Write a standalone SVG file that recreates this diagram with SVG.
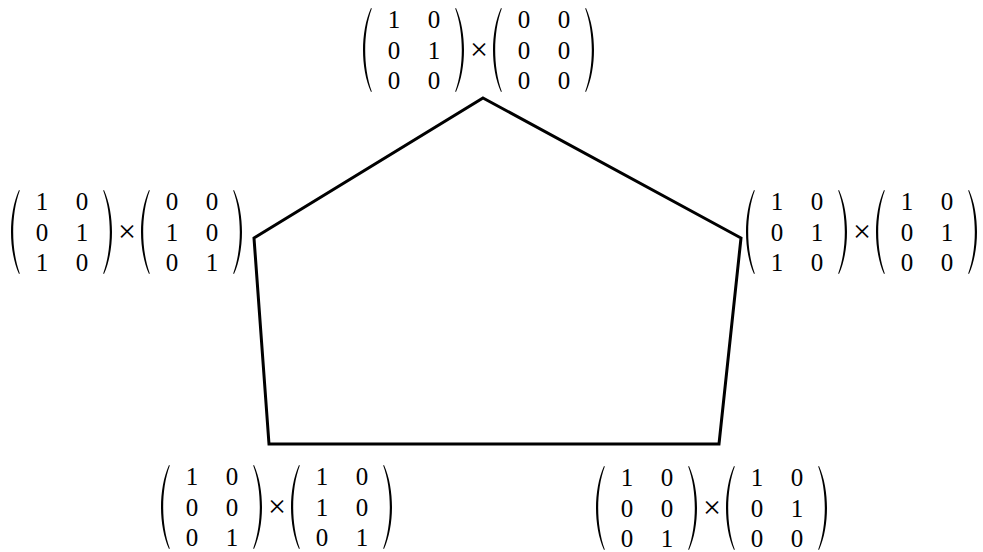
<svg xmlns="http://www.w3.org/2000/svg" xmlns:xlink="http://www.w3.org/1999/xlink" width="983" height="552" viewBox="0 0 983 552" font-family="'Liberation Serif', 'Times New Roman', serif">
<style>
text{font-family:'Liberation Serif','Times New Roman',serif;font-size:25px;fill:#000;text-anchor:middle}
text.x{font-size:32px}
.edge{fill:none;stroke:#000;stroke-width:3;stroke-linejoin:miter}
.par{fill:#000}
</style>
<defs>
<path id="lp" class="par" d="M8,0 C2.5,12 0,28 0,42 C0,56 2.5,72 8,84 L8.8,83.4 C4.2,71 2.2,56 2.2,42 C2.2,28 4.2,13 8.8,0.6 Z"/>
<g id="br">
<use xlink:href="#lp" transform="translate(0,-20)"/>
<use xlink:href="#lp" transform="translate(101,-20) scale(-1,1)"/>
<use xlink:href="#lp" transform="translate(130,-20)"/>
<use xlink:href="#lp" transform="translate(231,-20) scale(-1,1)"/>
<text class="x" x="116" y="32">×</text>
</g>
</defs>
<rect width="983" height="552" fill="#fff"/>
<g id="connectors">
<polygon class="edge" points="483,98 741,238 719,444 269,444 254,238"/>
</g>
<g id="top" transform="translate(363,28)">
<use xlink:href="#br"/>
<text x="31" y="0">1</text><text x="71" y="0">0</text>
<text x="31" y="30.5">0</text><text x="71" y="30.5">1</text>
<text x="31" y="61">0</text><text x="71" y="61">0</text>
<text x="161" y="0">0</text><text x="201" y="0">0</text>
<text x="161" y="30.5">0</text><text x="201" y="30.5">0</text>
<text x="161" y="61">0</text><text x="201" y="61">0</text>
</g>
<g id="left" transform="translate(11,210)">
<use xlink:href="#br"/>
<text x="31" y="0">1</text><text x="71" y="0">0</text>
<text x="31" y="30.5">0</text><text x="71" y="30.5">1</text>
<text x="31" y="61">1</text><text x="71" y="61">0</text>
<text x="161" y="0">0</text><text x="201" y="0">0</text>
<text x="161" y="30.5">1</text><text x="201" y="30.5">0</text>
<text x="161" y="61">0</text><text x="201" y="61">1</text>
</g>
<g id="right" transform="translate(746,210)">
<use xlink:href="#br"/>
<text x="31" y="0">1</text><text x="71" y="0">0</text>
<text x="31" y="30.5">0</text><text x="71" y="30.5">1</text>
<text x="31" y="61">1</text><text x="71" y="61">0</text>
<text x="161" y="0">1</text><text x="201" y="0">0</text>
<text x="161" y="30.5">0</text><text x="201" y="30.5">1</text>
<text x="161" y="61">0</text><text x="201" y="61">0</text>
</g>
<g id="bottom-left" transform="translate(161,485)">
<use xlink:href="#br"/>
<text x="31" y="0">1</text><text x="71" y="0">0</text>
<text x="31" y="30.5">0</text><text x="71" y="30.5">0</text>
<text x="31" y="61">0</text><text x="71" y="61">1</text>
<text x="161" y="0">1</text><text x="201" y="0">0</text>
<text x="161" y="30.5">1</text><text x="201" y="30.5">0</text>
<text x="161" y="61">0</text><text x="201" y="61">1</text>
</g>
<g id="bottom-right" transform="translate(596,486)">
<use xlink:href="#br"/>
<text x="31" y="0">1</text><text x="71" y="0">0</text>
<text x="31" y="30.5">0</text><text x="71" y="30.5">0</text>
<text x="31" y="61">0</text><text x="71" y="61">1</text>
<text x="161" y="0">1</text><text x="201" y="0">0</text>
<text x="161" y="30.5">0</text><text x="201" y="30.5">1</text>
<text x="161" y="61">0</text><text x="201" y="61">0</text>
</g>
</svg>
